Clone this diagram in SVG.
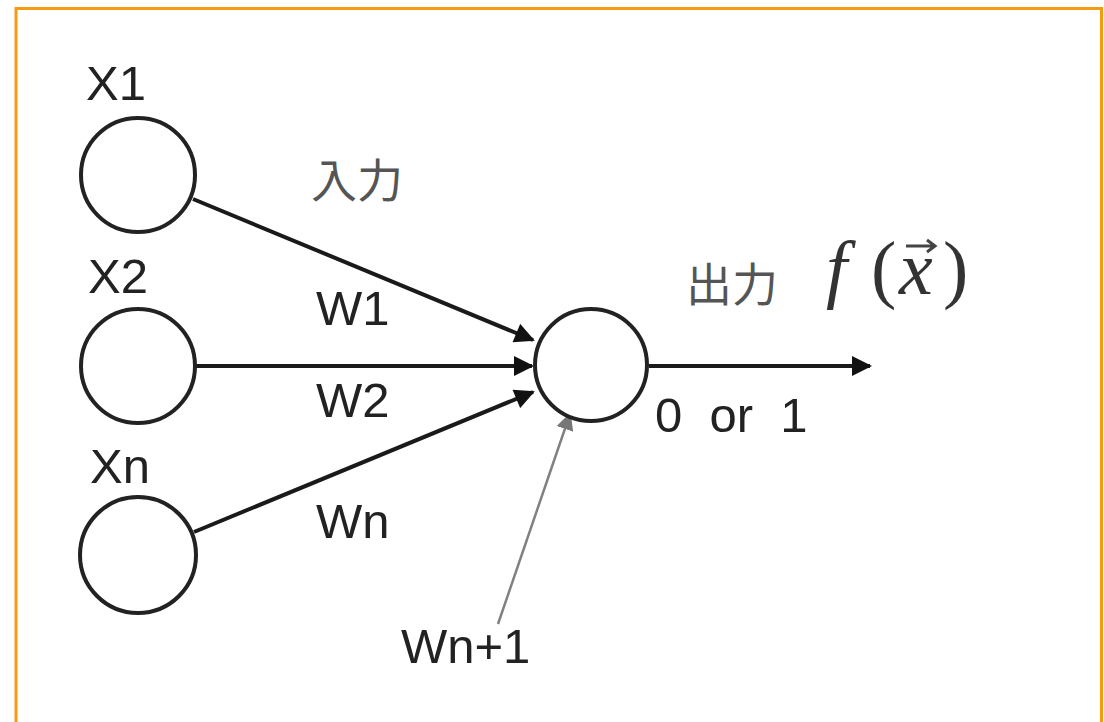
<svg xmlns="http://www.w3.org/2000/svg" width="1104" height="722" viewBox="0 0 1104 722">
  <style>
    .node { fill: #ffffff; stroke: #222222; stroke-width: 4; }
    .lbl { font-family: "Liberation Sans", Arial, sans-serif; font-size: 49px; fill: #222222; }
    .jp { font-family: "Noto Sans CJK JP", "Noto Sans", sans-serif; font-size: 46px; fill: #555555; }
    .math { font-family: "Liberation Serif", "Times New Roman", serif; font-size: 76px; fill: #333333; }
    .edge { stroke: #1a1a1a; stroke-width: 4; fill: none; }
    .bias { stroke: #808080; stroke-width: 2.5; fill: none; }
  </style>
  <defs>
    <marker id="head" viewBox="0 0 10 10" refX="9" refY="5" markerWidth="5.5" markerHeight="5" orient="auto" markerUnits="strokeWidth">
      <path d="M0,0 L10,5 L0,10 Z" fill="#111111"/>
    </marker>
    <marker id="headGray" viewBox="0 0 10 10" refX="9" refY="5" markerWidth="7" markerHeight="7" orient="auto" markerUnits="strokeWidth">
      <path d="M0,0 L10,5 L0,10 Z" fill="#777777"/>
    </marker>
  </defs>

  <rect x="0" y="0" width="1104" height="722" fill="#ffffff"/>
  <!-- frame -->
  <rect x="16" y="8.5" width="1085.5" height="730" fill="none" stroke="#F39C12" stroke-width="3"/>

  <!-- connectors -->
  <g id="connectors">
    <line class="edge" x1="193" y1="199" x2="533" y2="340" marker-end="url(#head)"/>
    <line class="edge" x1="196" y1="366" x2="532" y2="366" marker-end="url(#head)"/>
    <line class="edge" x1="194" y1="532" x2="533" y2="392" marker-end="url(#head)"/>
    <line class="edge" x1="649" y1="366" x2="870" y2="366" marker-end="url(#head)"/>
    <line class="bias" x1="498" y1="624" x2="570" y2="414" marker-end="url(#headGray)"/>
  </g>

  <!-- input nodes -->
  <g id="x1">
    <circle class="node" cx="138" cy="175" r="57"/>
    <text class="lbl" x="86" y="100">X1</text>
  </g>
  <g id="x2">
    <circle class="node" cx="138" cy="366" r="57"/>
    <text class="lbl" x="88" y="293">X2</text>
  </g>
  <g id="xn">
    <circle class="node" cx="138" cy="555" r="58"/>
    <text class="lbl" x="90" y="483">Xn</text>
  </g>

  <!-- neuron -->
  <g id="neuron">
    <circle class="node" cx="591" cy="365" r="56"/>
  </g>

  <!-- labels -->
  <g id="labels">
    <text class="jp" x="311" y="197">入力</text>
    <text class="lbl" x="316" y="325">W1</text>
    <text class="lbl" x="316" y="417">W2</text>
    <text class="lbl" x="316" y="538">Wn</text>
    <text class="lbl" x="401" y="663">Wn+1</text>
    <text class="jp" x="686" y="301">出力</text>
    <!-- f(x) with vector arrow over x -->
    <text class="math" x="826" y="294" font-style="italic">f</text>
    <text class="math" x="871" y="294">(</text>
    <text class="math" x="899" y="294" font-style="italic">x</text>
    <text class="math" x="943" y="294">)</text>
    <path d="M906,246 L934,246 M927,240 L935,246 L927,252" fill="none" stroke="#444444" stroke-width="3"/>
    <text class="lbl" x="655" y="432" xml:space="preserve" fill="#333333">0  or  1</text>
  </g>
</svg>
